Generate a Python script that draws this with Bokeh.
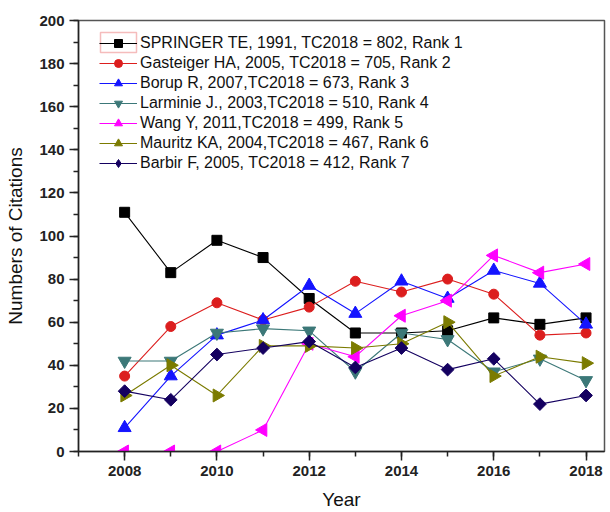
import math
from bokeh.plotting import figure
from bokeh.models import Range1d, SingleIntervalTicker, Legend, BoxAnnotation
from bokeh.embed import file_html
from bokeh.resources import INLINE

years = [2008, 2009, 2010, 2011, 2012, 2013, 2014, 2015, 2016, 2017, 2018]

springer = [111, 83, 98, 90, 71, 55, 55, 56, 62, 59, 62]
gasteiger = [35, 58, 69, 61, 67, 79, 74, 80, 73, 54, 55]
borup = [11, 35, 54, 61, 77, 64, 79, 71, 84, 78, 59]
larminie = [42, 42, 55, 57, 56, 37, 55, 52, 37, 43, 33]
wang = [0, 0, 0, 10, 50, 44, 63, 70, 91, 83, 87]
mauritz = [26, 40, 26, 49, 49, 48, 50, 60, 35, 44, 41]
barbir = [28, 24, 45, 48, 51, 39, 48, 38, 43, 22, 26]

labels = [
    "SPRINGER TE, 1991, TC2018 = 802, Rank 1",
    "Gasteiger HA, 2005, TC2018 = 705, Rank 2",
    "Borup R, 2007,TC2018 = 673, Rank 3",
    "Larminie J., 2003,TC2018 = 510, Rank 4",
    "Wang Y, 2011,TC2018 = 499, Rank 5",
    "Mauritz KA, 2004,TC2018 = 467, Rank 6",
    "Barbir F, 2005, TC2018 = 412, Rank 7",
]

series = [springer, gasteiger, borup, larminie, wang, mauritz, barbir]
colors = ["#000000", "#dc1e1e", "#1414ff", "#3c7878", "#ff00ff", "#7b7b00", "#140060"]
markers = ["square", "circle", "triangle", "inverted_triangle", "triangle", "triangle", "square"]
legend_markers = ["square", "circle", "triangle", "inverted_triangle", "triangle", "triangle", "diamond"]
angles = [0, 0, 0, 0, math.pi / 2, -math.pi / 2, math.pi / 4]
sizes = [10, 10, 13, 13, 13, 13, 9]

p = figure(width=608, height=512, output_backend="svg", toolbar_location=None,
           x_range=Range1d(2007, 2018.4), y_range=Range1d(0, 200),
           min_border_left=78, min_border_right=4, min_border_top=20, min_border_bottom=60)

p.xgrid.grid_line_color = None
p.ygrid.grid_line_color = None
p.outline_line_color = "#555555"
p.outline_line_width = 1.5

items = []
for ys, c, m, lm, a, s, lab in zip(series, colors, markers, legend_markers, angles, sizes, labels):
    l = p.line(years, ys, line_color=c, line_width=1.1)
    sc = p.scatter(years, ys, marker=m, angle=a, size=s, fill_color=c, line_color=c)
    if lm != m:
        leg = p.scatter(years, ys, marker=lm, size=s, fill_color=c, line_color=c, visible=False)
        items.append((lab, [l, leg]))
    else:
        items.append((lab, [l, sc]))

legend = Legend(items=items, location=(21, 278))
legend.border_line_color = None
legend.background_fill_alpha = 0
legend.label_text_font = "Liberation Sans"
legend.label_text_font_size = "16px"
legend.label_text_color = "#111111"
legend.glyph_width = 38
legend.glyph_height = 20
legend.label_height = 20
legend.spacing = 0
legend.label_standoff = 3
legend.margin = 0
legend.padding = 0
p.add_layout(legend)

box = BoxAnnotation(left=22, right=58, top=419, bottom=399,
                    left_units="screen", right_units="screen",
                    top_units="screen", bottom_units="screen",
                    fill_alpha=0, line_color="#dd2222", line_width=1.5)
p.add_layout(box)

for ax in (p.xaxis[0], p.yaxis[0]):
    ax.axis_line_color = "#222222"
    ax.axis_line_width = 1.5
    ax.major_tick_line_color = "#222222"
    ax.minor_tick_line_color = "#222222"
    ax.major_tick_line_width = 1.5
    ax.minor_tick_line_width = 1.5
    ax.major_tick_out = 9
    ax.major_tick_in = 0
    ax.minor_tick_out = 5
    ax.minor_tick_in = 0
    ax.major_label_text_font = "Liberation Sans"
    ax.major_label_text_font_size = "15px"
    ax.major_label_text_font_style = "bold"
    ax.major_label_text_color = "#222222"
    ax.axis_label_text_font = "Liberation Sans"
    ax.axis_label_text_font_size = "19px"
    ax.axis_label_text_font_style = "normal"
    ax.axis_label_text_color = "#111111"

p.xaxis.ticker = SingleIntervalTicker(interval=2, num_minor_ticks=2)
p.yaxis.ticker = SingleIntervalTicker(interval=20, num_minor_ticks=2)
p.xaxis.axis_label = "Year"
p.yaxis.axis_label = "Numbers of Citations"
p.xaxis.axis_label_standoff = 10
p.yaxis.axis_label_standoff = 10

open("out.html", "w").write(file_html(p, INLINE))
